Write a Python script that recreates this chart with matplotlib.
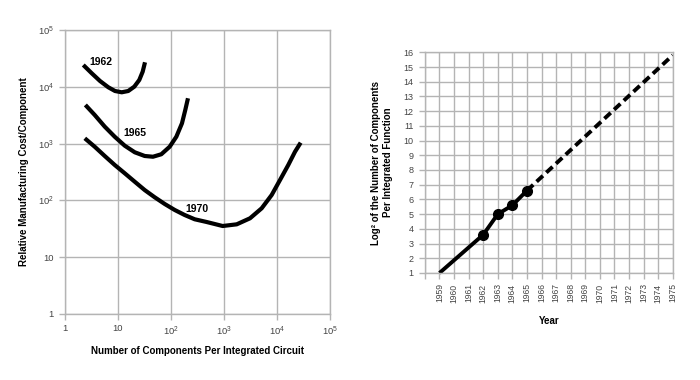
import matplotlib
matplotlib.use("Agg")
import matplotlib.pyplot as plt

plt.rcParams['font.family'] = ['Liberation Sans', 'DejaVu Sans']
plt.rcParams['mathtext.fontset'] = 'custom'
plt.rcParams['mathtext.rm'] = 'Liberation Sans'
plt.rcParams['mathtext.it'] = 'Liberation Sans'

# ---- left chart data (cost curves) ----
x1962 = [2.21, 3.19, 4.57, 6.56, 8.77, 11.75, 15.6, 20.3, 25.2, 29.2, 32.3]
y1962 = [24200, 17300, 12650, 9800, 8430, 8000, 8430, 10050, 13180, 18450, 27000]
x1965 = [2.42, 3.63, 5.61, 8.67, 13.4, 20.7, 31.9, 45.7, 65.6, 94.4, 126, 161, 186, 209]
y1965 = [4790, 3190, 1990, 1320, 918, 703, 605, 587, 649, 881, 1320, 2275, 3910, 6280]
x1970 = [2.36, 3.63, 5.61, 8.67, 13.4, 20.7, 31.9, 49.2, 76.0, 117.5, 181, 280,
         468, 944, 1738, 3097, 5140, 7940, 11400, 16330, 21880, 27990]
y1970 = [1239, 881, 605, 420, 300, 213, 152, 113.5, 86.5, 67.8, 55.3, 46.5,
         41.7, 35.4, 37.9, 48.4, 72.6, 124.5, 228.6, 420, 719, 1038]
curve_labels = ["1962", "1965", "1970"]
label_x = [4.7, 20.7, 313]
label_y = [27000, 1556, 70.6]
left_ticks = [1, 10, 100, 1000, 10000, 100000]
left_ticklabels = ["1", "10", "10$^2$", "10$^3$", "10$^4$", "10$^5$"]

# ---- right chart data ----
years_actual = [1959, 1962, 1963, 1964, 1965]
log2_actual = [1.0, 3.6, 5.0, 5.6, 6.6]
marker_years = [1962, 1963, 1964, 1965]
marker_vals = [3.6, 5.0, 5.6, 6.6]
years_proj = [1965, 1975]
log2_proj = [6.6, 15.8]
year_ticks = list(range(1959, 1976))
right_yticks = list(range(1, 17))

grid_c = '#b4b4b4'
tick_c = '#444444'

fig = plt.figure(figsize=(7, 3.8), dpi=100)
fig.patch.set_facecolor('white')

# ---------------- left ----------------
ax1 = fig.add_axes([0.0929, 0.1737, 0.3785, 0.7474])
ax1.set_xscale('log')
ax1.set_yscale('log')
ax1.set_xlim(1, 1e5)
ax1.set_ylim(1, 1e5)
ax1.minorticks_off()
ax1.set_xticks(left_ticks)
ax1.set_xticklabels(left_ticklabels)
ax1.set_yticks(left_ticks)
ax1.set_yticklabels(left_ticklabels)
ax1.grid(True, color=grid_c, linewidth=1.0)
ax1.set_axisbelow(True)
for s in ax1.spines.values():
    s.set_color(grid_c)
    s.set_linewidth(1.0)
ax1.tick_params(axis='both', direction='out', length=4, width=1.0,
                color=grid_c, labelsize=6.8, labelcolor=tick_c)
ax1.tick_params(axis='x', pad=3.5)
ax1.tick_params(axis='y', pad=4)
for xs, ys in [(x1962, y1962), (x1965, y1965), (x1970, y1970)]:
    ax1.plot(xs, ys, color='black', linewidth=3.0, solid_capstyle='butt',
             solid_joinstyle='round')
for t, lx, ly in zip(curve_labels, label_x, label_y):
    ax1.text(lx, ly, t, fontsize=7.5, fontweight='bold', ha='center',
             va='center', color='black')
ax1.set_xlabel("Number of Components Per Integrated Circuit", fontsize=7,
               fontweight='bold', labelpad=6)
ax1.set_ylabel("Relative Manufacturing Cost/Component", fontsize=7,
               fontweight='bold', labelpad=6)

# ---------------- right ----------------
ax2 = fig.add_axes([0.607, 0.2816, 0.354, 0.5808])
ax2.set_xlim(1958, 1975)
ax2.set_ylim(1, 16)
ax2.set_xticks(list(range(1958, 1976)))
ax2.set_xticklabels([""] + [str(y) for y in year_ticks], rotation=90)
ax2.set_yticks(right_yticks)
ax2.grid(True, color=grid_c, linewidth=1.0)
ax2.set_axisbelow(True)
for s in ax2.spines.values():
    s.set_color(grid_c)
    s.set_linewidth(1.0)
ax2.tick_params(axis='both', direction='out', length=4, width=1.0,
                color=grid_c, labelcolor=tick_c, pad=4)
ax2.tick_params(axis='x', labelsize=6.2, pad=3.5)
ax2.tick_params(axis='y', labelsize=6.5)
ax2.plot(years_actual, log2_actual, color='black', linewidth=2.8,
         solid_capstyle='butt', clip_on=False)
ax2.plot(marker_years, marker_vals, 'o', color='black', markersize=7,
         clip_on=False)
ax2.plot(years_proj, log2_proj, color='black', linewidth=2.8,
         linestyle=(0, (2.2, 1.2)), dash_capstyle='butt', clip_on=False)
ax2.set_xlabel("Year", fontsize=7, fontweight='bold', labelpad=10)
ax2.set_ylabel("Log\u00b2 of the Number of Components\nPer Integrated Function",
               fontsize=7, fontweight='bold', labelpad=8)

fig.savefig("out.png", dpi=100)
